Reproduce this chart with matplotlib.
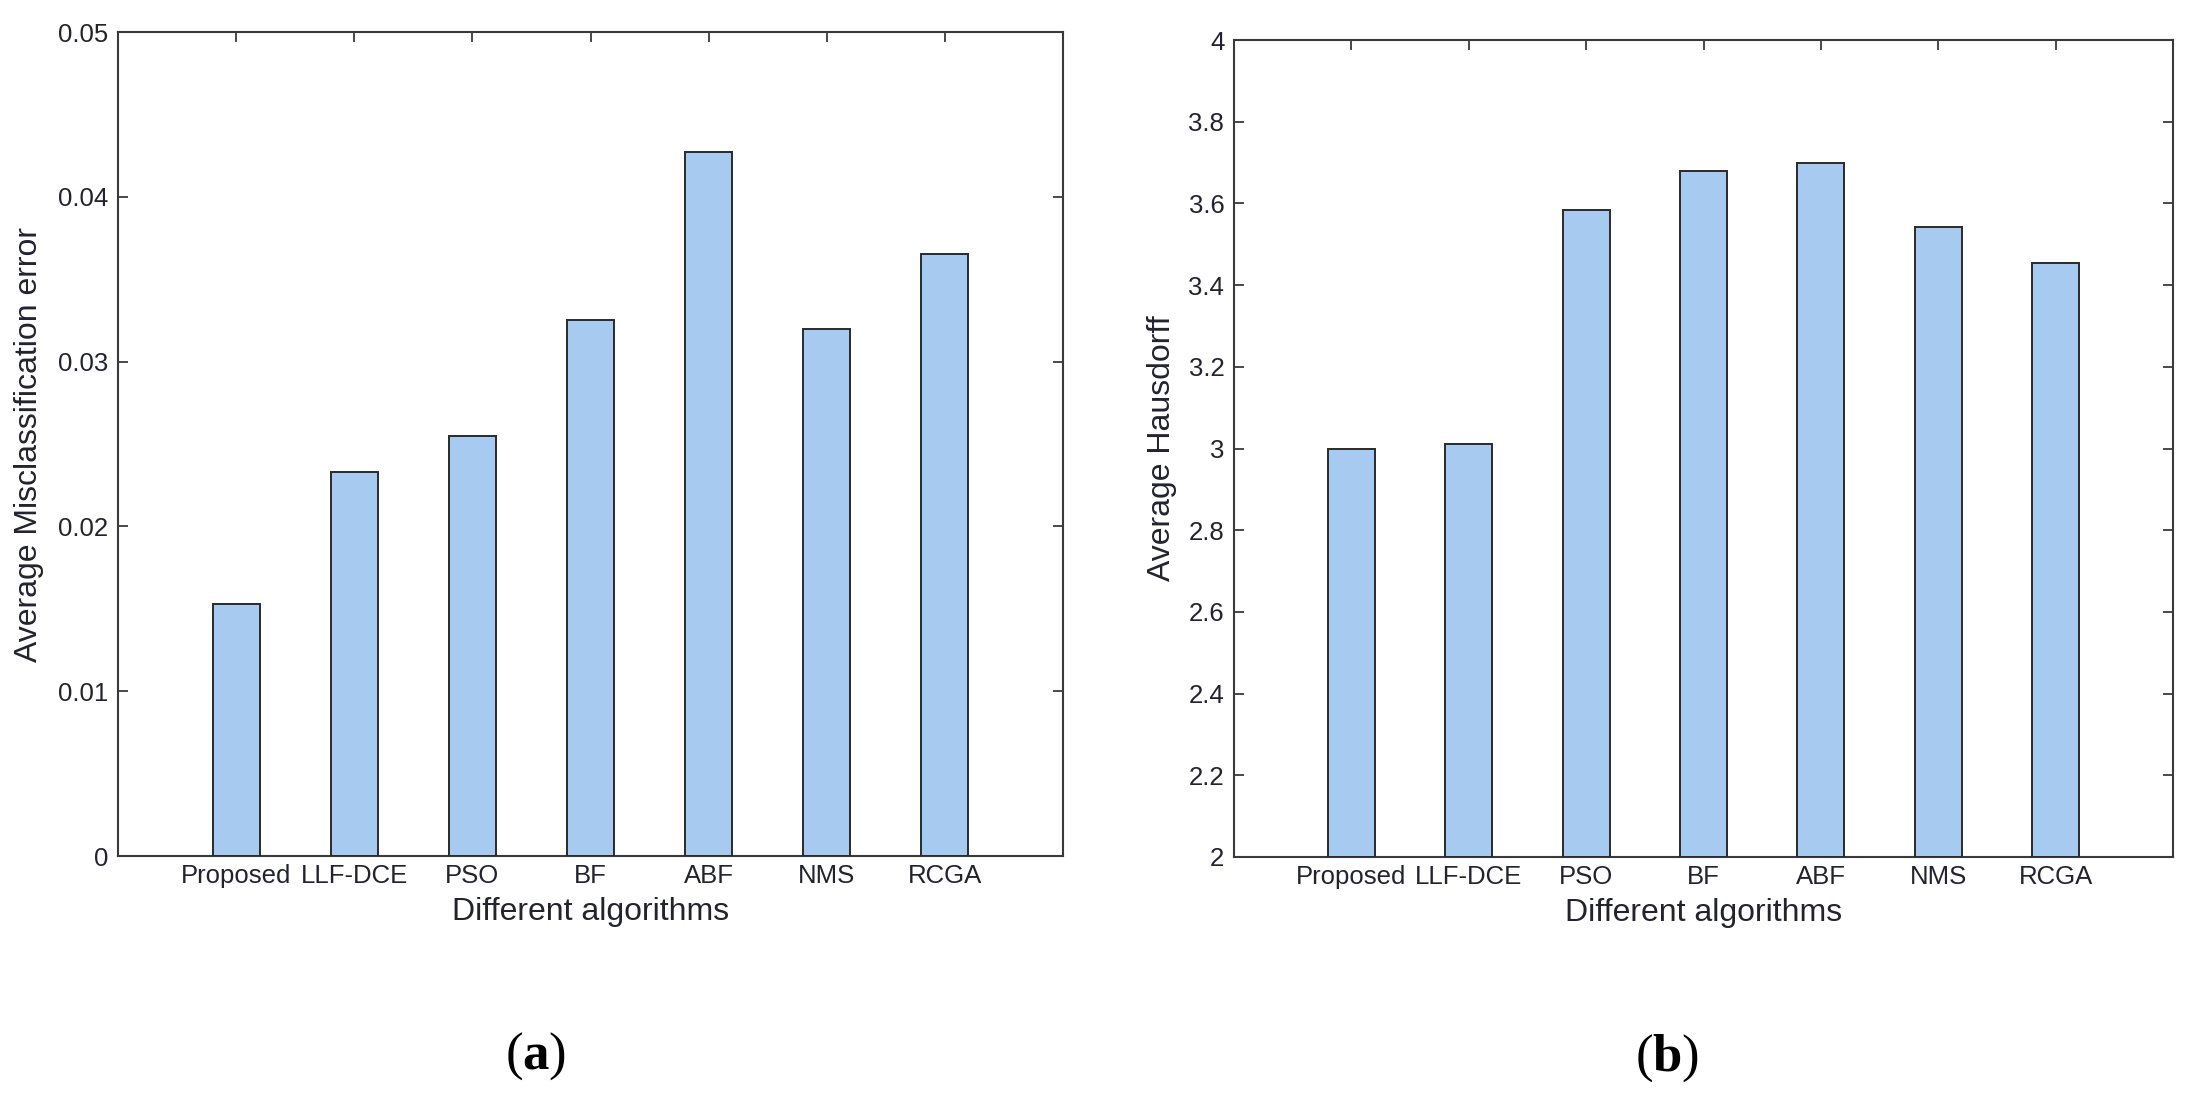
import matplotlib
matplotlib.use("Agg")
import matplotlib.pyplot as plt
from matplotlib.ticker import FormatStrFormatter, FuncFormatter

# ---- data ----
algorithms = ["Proposed", "LLF-DCE", "PSO", "BF", "ABF", "NMS", "RCGA"]
misclass_error = [0.0153, 0.0233, 0.0255, 0.0325, 0.0427, 0.0320, 0.0365]
hausdorff = [3.00, 3.01, 3.585, 3.68, 3.70, 3.543, 3.455]
yticks_a = [0, 0.01, 0.02, 0.03, 0.04, 0.05]
yticks_b = [2, 2.2, 2.4, 2.6, 2.8, 3, 3.2, 3.4, 3.6, 3.8, 4]
xlabel = "Different algorithms"
ylabel_a = "Average Misclassification error"
ylabel_b = "Average Hausdorff"
captions = ["a", "b"]

plt.rcParams['font.family'] = ['Liberation Sans', 'DejaVu Sans']
plt.rcParams['mathtext.fontset'] = 'custom'
plt.rcParams['mathtext.bf'] = 'Liberation Serif:bold'
plt.rcParams['mathtext.rm'] = 'Liberation Serif'

TXT = '#232330'
BAR = '#A6CAF0'
EDGE = '#2a2a2a'
SPINE = '#3a3a3a'

fig = plt.figure(figsize=(22.05, 10.96), dpi=100)
ax1 = fig.add_axes([118/2205, 1-856/1096, 945/2205, 824/1096])
ax2 = fig.add_axes([1234/2205, 1-857/1096, 939/2205, 817/1096])

pos = list(range(1, len(algorithms) + 1))

def fmt(v, p):
    return ('%g' % round(v, 6))

for ax, vals, yt, yl, lblx in [(ax1, misclass_error, yticks_a, ylabel_a, -0.078),
                               (ax2, hausdorff, yticks_b, ylabel_b, -0.061)]:
    ax.bar(pos, [v - yt[0] for v in vals], bottom=yt[0], width=0.4, color=BAR,
           edgecolor=EDGE, linewidth=1.4, zorder=3)
    ax.set_xlim(0, 8)
    ax.set_ylim(yt[0], yt[-1])
    ax.set_yticks(yt)
    ax.yaxis.set_major_formatter(FuncFormatter(fmt))
    ax.set_xticks(pos)
    ax.set_xticklabels(algorithms)
    for s in ax.spines.values():
        s.set_color(SPINE)
        s.set_linewidth(1.5)
    ax.tick_params(axis='y', direction='in', length=7, width=1.3, color=SPINE,
                   left=True, right=True, labelsize=18.5, labelcolor=TXT, pad=7)
    ax.tick_params(axis='x', direction='in', length=7, width=1.3, color=SPINE,
                   bottom=False, top=True, labelsize=18.5, labelcolor=TXT, pad=5.5)
    ax.set_xlabel(xlabel, fontsize=23, color=TXT)
    ax.xaxis.set_label_coords(0.5, -0.05)
    ax.set_ylabel(yl, fontsize=23, color=TXT)
    ax.yaxis.set_label_coords(lblx, 0.5)

fig.text(536/2205, 1-1056/1096, '(' + r'$\mathbf{' + captions[0] + '}$' + ')',
         family='Liberation Serif', fontsize=38, ha='center', va='center', color='black')
fig.text(1667/2205, 1-1058/1096, '(' + r'$\mathbf{' + captions[1] + '}$' + ')',
         family='Liberation Serif', fontsize=38, ha='center', va='center', color='black')

fig.savefig('out.png', dpi=100, facecolor='white')
